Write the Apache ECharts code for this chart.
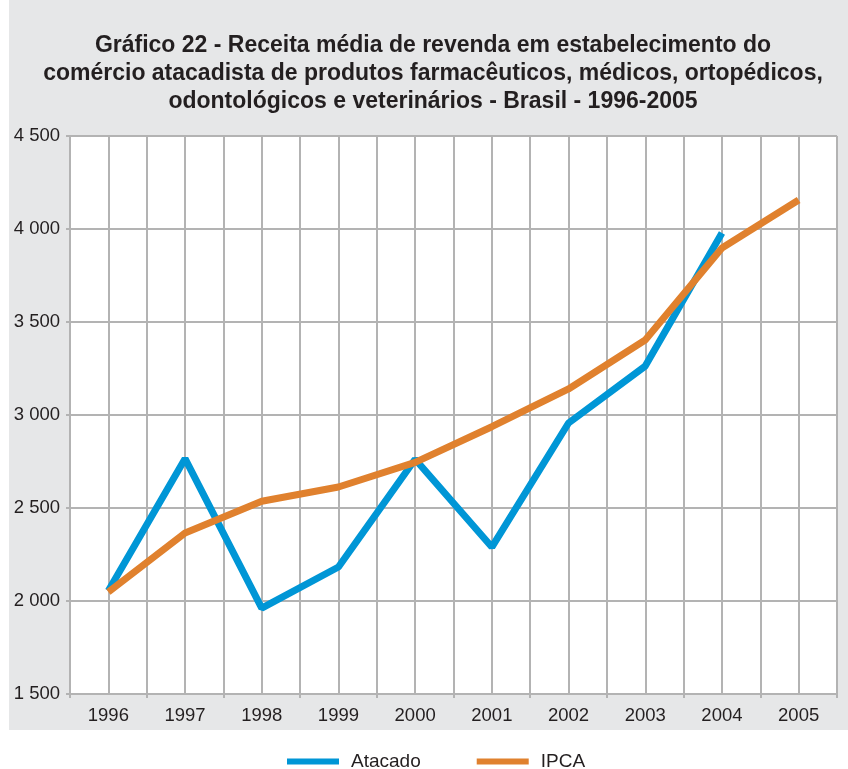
<!DOCTYPE html>
<html>
<head>
<meta charset="utf-8">
<script src="https://cdn.jsdelivr.net/npm/echarts@6/dist/echarts.min.js"></script>
<style>
  html, body { margin: 0; padding: 0; background: #fff; }
  #main { width: 848px; height: 769px; }
</style>
</head>
<body>
<div id="main"></div>
<script>
var anos = ['1996', '1997', '1998', '1999', '2000', '2001', '2002', '2003', '2004', '2005'];
var atacado = [2055, 2765, 1962, 2183, 2762, 2290, 2957, 3263, 3978, null];
var ipca = [2048, 2366, 2536, 2613, 2745, 2937, 3140, 3403, 3898, 4156];
var fonte = 'Liberation Sans, Arial, sans-serif';

var myChart = echarts.init(document.getElementById('main'));

myChart.setOption({
    backgroundColor: '#ffffff',
    textStyle: { fontFamily: fonte },
    title: {
        text: 'Gráfico 22 - Receita média de revenda em estabelecimento do\ncomércio atacadista de produtos farmacêuticos, médicos, ortopédicos,\nodontológicos e veterinários - Brasil - 1996-2005',
        left: 428,
        textAlign: 'center',
        top: 27,
        textStyle: {
            fontSize: 23,
            fontWeight: 'bold',
            color: '#231f20',
            lineHeight: 28,
            fontFamily: fonte
        }
    },
    // fundo cinza do quadro
    graphic: [{
        type: 'rect',
        z: -100,
        silent: true,
        shape: { x: 9, y: 0, width: 839, height: 730 },
        style: { fill: '#e6e7e8' }
    }],
    legend: {
        bottom: -7,
        left: 282,
        itemWidth: 52,
        itemHeight: 6,
        itemGap: 56,
        icon: 'rect',
        textStyle: { fontSize: 19, color: '#231f20', fontFamily: fonte, padding: [0, 0, 0, 7] },
        data: ['Atacado', 'IPCA']
    },
    grid: {
        show: true,
        backgroundColor: '#ffffff',
        borderWidth: 0,
        left: 70,
        right: 11,
        top: 136,
        bottom: 75
    },
    xAxis: [{
        type: 'category',
        data: anos,
        boundaryGap: true,
        axisLine: { lineStyle: { color: '#b3b3b3', width: 2 } },
        axisTick: { show: true, length: 4, lineStyle: { color: '#b3b3b3', width: 2 } },
        axisLabel: { fontSize: 18.5, color: '#231f20', margin: 12 },
        splitLine: { show: false }
    }, {
        // grade vertical a cada meia categoria
        type: 'value',
        min: 0,
        max: 20,
        interval: 1,
        position: 'bottom',
        axisLine: { show: false },
        axisTick: { show: false },
        axisLabel: { show: false },
        splitLine: { show: true, lineStyle: { color: '#b3b3b3', width: 2 } }
    }],
    yAxis: {
        type: 'value',
        min: 1500,
        max: 4500,
        interval: 500,
        axisLine: { show: true, lineStyle: { color: '#b3b3b3', width: 2 } },
        axisTick: { show: true, length: 4, lineStyle: { color: '#b3b3b3', width: 2 } },
        axisLabel: {
            fontSize: 18.5,
            color: '#231f20',
            margin: 10,
            formatter: function (v) {
                return String(v).replace(/\B(?=(\d{3})+(?!\d))/g, ' ');
            }
        },
        splitLine: { show: true, lineStyle: { color: '#b3b3b3', width: 2 } }
    },
    series: [{
        name: 'Atacado',
        type: 'line',
        xAxisIndex: 0,
        data: atacado,
        symbol: 'none',
        color: '#0096d6',
        lineStyle: { width: 7, color: '#0096d6' },
        z: 3
    }, {
        name: 'IPCA',
        type: 'line',
        xAxisIndex: 0,
        data: ipca,
        symbol: 'none',
        color: '#e0812e',
        lineStyle: { width: 7, color: '#e0812e' },
        z: 4
    }]
});
</script>
</body>
</html>
